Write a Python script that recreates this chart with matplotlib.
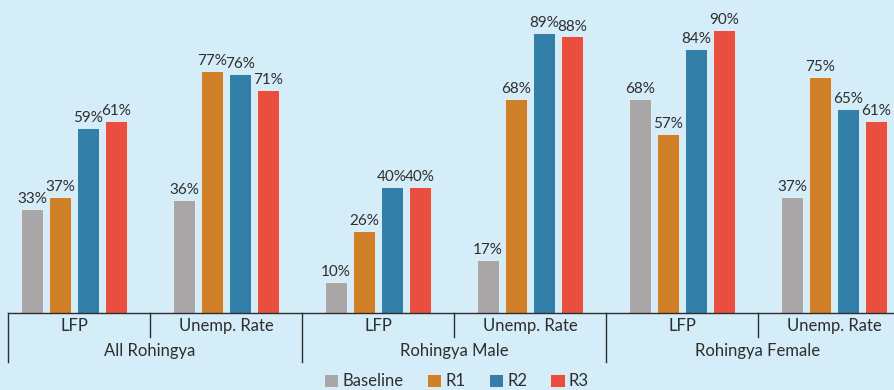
import matplotlib.pyplot as plt
import matplotlib.transforms as mtransforms
import numpy as np

# Grouped bars: 3 populations x 2 indicators, four rounds each
groups = ["All Rohingya", "Rohingya Male", "Rohingya Female"]
indicators = ["LFP", "Unemp. Rate"]
series = ["Baseline", "R1", "R2", "R3"]
baseline = [33, 36, 10, 17, 68, 37]
r1 = [37, 77, 26, 68, 57, 75]
r2 = [59, 76, 40, 89, 84, 65]
r3 = [61, 71, 40, 88, 90, 61]

colors = ["#a8a6a7", "#d08028", "#3280aa", "#e94f3f"]
BG = "#d4edf8"
TXT = "#2e2e2e"

plt.rcParams["font.family"] = ["Lato", "DejaVu Sans"]

fig = plt.figure(figsize=(8.95, 3.9), dpi=100, facecolor=BG)
W, H = 895, 390
ax = fig.add_axes([8 / W, 77 / H, 887 / W, 313 / H])
ax.set_facecolor(BG)

x = np.arange(6)
step, width = 28 / 152, 22 / 152
for k, (name, vals) in enumerate(zip(series, [baseline, r1, r2, r3])):
    pos = x + (k - 1.5) * step
    ax.bar(pos, vals, width, color=colors[k], edgecolor="#eaf5fa",
           linewidth=0.6, label=name, zorder=2)
    for px, v in zip(pos, vals):
        ax.annotate(f"{v}%", (px, v), xytext=(0, 2), textcoords="offset points",
                    ha="center", va="bottom", fontsize=11, color=TXT)

ax.set_xlim((8 - 74) / 152, (895 - 74) / 152)
ax.set_ylim(0, 313 / 3.144)
for s in ["left", "right", "top"]:
    ax.spines[s].set_visible(False)
ax.spines["bottom"].set_color(TXT)
ax.spines["bottom"].set_linewidth(1.0)
ax.set_xticks([])
ax.set_yticks([])

# Two-level category axis drawn by hand under the bars
trans = mtransforms.blended_transform_factory(ax.transData, fig.transFigure)
y_axis, y_short, y_long = 313, 337, 362
left = ax.get_xlim()[0]
for i in range(7):
    xb = i - 0.5
    if i == 0:
        xb = left
    bottom = y_long if i % 2 == 0 else y_short
    ax.plot([xb, xb], [1 - y_axis / H, 1 - bottom / H], color=TXT, lw=1.0,
            transform=trans, clip_on=False)
for i in range(6):
    ax.text(i, 1 - 326 / H, indicators[i % 2], transform=trans, ha="center",
            va="center", fontsize=12, color=TXT)
for g, name in enumerate(groups):
    ax.text(2 * g + 0.5, 1 - 351 / H, name, transform=trans, ha="center",
            va="center", fontsize=12, color=TXT)

fig.legend(loc="center", bbox_to_anchor=(0.51, 1 - 381 / H), ncol=4,
           frameon=False, fontsize=12, handlelength=0.85, handleheight=0.85,
           handletextpad=0.25, columnspacing=1.4, labelcolor=TXT)

fig.savefig("out.png", dpi=100, facecolor=BG)
